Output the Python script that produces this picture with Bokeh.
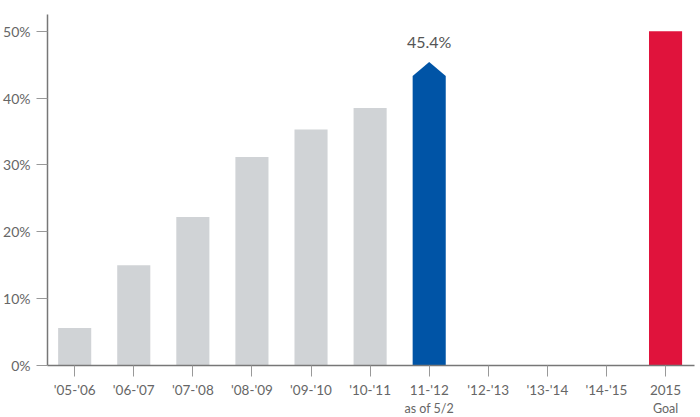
from bokeh.plotting import figure
from bokeh.models import Range1d, FixedTicker, LinearAxis
from bokeh.core.properties import value
from bokeh.embed import file_html
from bokeh.resources import INLINE

categories = ["'05-'06", "'06-'07", "'07-'08", "'08-'09", "'09-'10", "'10-'11",
              "11-'12", "'12-'13", "'13-'14", "'14-'15", "2015"]
grey_values = [5.6, 15.0, 22.2, 31.2, 35.3, 38.5]
current_value = 45.4
current_label = "45.4%"
current_note = "as of 5/2"
goal_value = 50.0
goal_note = "Goal"
y_ticks = [0, 10, 20, 30, 40, 50]
y_tick_labels = ["0%", "10%", "20%", "30%", "40%", "50%"]

FONT = "Lato"
GREY = "#d0d3d6"
BLUE = "#0054a6"
RED = "#e0133c"
TXT = "#666666"

p = figure(output_backend="svg", toolbar_location=None,
           frame_width=647, frame_height=351,
           x_range=Range1d(-0.46, 10.49), y_range=Range1d(0, 52.5),
           min_border_left=47, min_border_right=6, min_border_top=14, min_border_bottom=40)
p.outline_line_color = None
p.grid.grid_line_color = None
p.background_fill_color = "white"

bw = 0.56
xs_grey = list(range(len(grey_values)))
p.vbar(x=xs_grey, top=grey_values, width=bw, fill_color=GREY, line_color=None)

ci = categories.index("11-'12")
head = 2.1
half = bw / 2
p.patch(x=[ci - half, ci - half, ci, ci + half, ci + half],
        y=[0, current_value - head, current_value, current_value - head, 0],
        fill_color=BLUE, line_color=None)

gi = categories.index("2015")
p.vbar(x=[gi], top=[goal_value], width=bw, fill_color=RED, line_color=None)

p.text(x=[ci], y=[current_value], text=[current_label], text_align="center",
       text_baseline="bottom", y_offset=-11, text_font=value(FONT),
       text_font_size="16px", text_color="#555555")

# main x axis
p.xaxis.ticker = FixedTicker(ticks=list(range(len(categories))))
p.xaxis.major_label_overrides = {i: c for i, c in enumerate(categories)}
p.xaxis.major_tick_out = 11
p.xaxis.major_tick_in = 0
p.xaxis.minor_tick_line_color = None
p.xaxis.major_tick_line_color = "#999999"
p.xaxis.axis_line_color = "#777777"
p.xaxis.axis_line_width = 1.5
p.xaxis.major_label_text_font = FONT
p.xaxis.major_label_text_font_size = "13.5px"
p.xaxis.major_label_text_color = TXT
p.xaxis.major_label_standoff = 5

# secondary notes axis (sub-labels)
notes_axis = LinearAxis(ticker=FixedTicker(ticks=[ci, gi]),
                        major_label_overrides={ci: current_note, gi: goal_note})
notes_axis.axis_line_color = None
notes_axis.major_tick_line_color = None
notes_axis.minor_tick_line_color = None
notes_axis.major_tick_out = 0
notes_axis.major_tick_in = 0
notes_axis.major_label_standoff = 0
notes_axis.major_label_text_font = FONT
notes_axis.major_label_text_font_size = "12.5px"
notes_axis.major_label_text_color = TXT
p.add_layout(notes_axis, "below")

p.yaxis.ticker = FixedTicker(ticks=y_ticks)
p.yaxis.major_label_overrides = {t: l for t, l in zip(y_ticks, y_tick_labels)}
p.yaxis.major_tick_out = 11
p.yaxis.major_tick_in = 0
p.yaxis.minor_tick_line_color = None
p.yaxis.major_tick_line_color = "#999999"
p.yaxis.axis_line_color = "#777777"
p.yaxis.axis_line_width = 1.5
p.yaxis.major_label_text_font = FONT
p.yaxis.major_label_text_font_size = "14px"
p.yaxis.major_label_text_color = TXT
p.yaxis.major_label_standoff = 6

open("out.html", "w").write(file_html(p, INLINE))
